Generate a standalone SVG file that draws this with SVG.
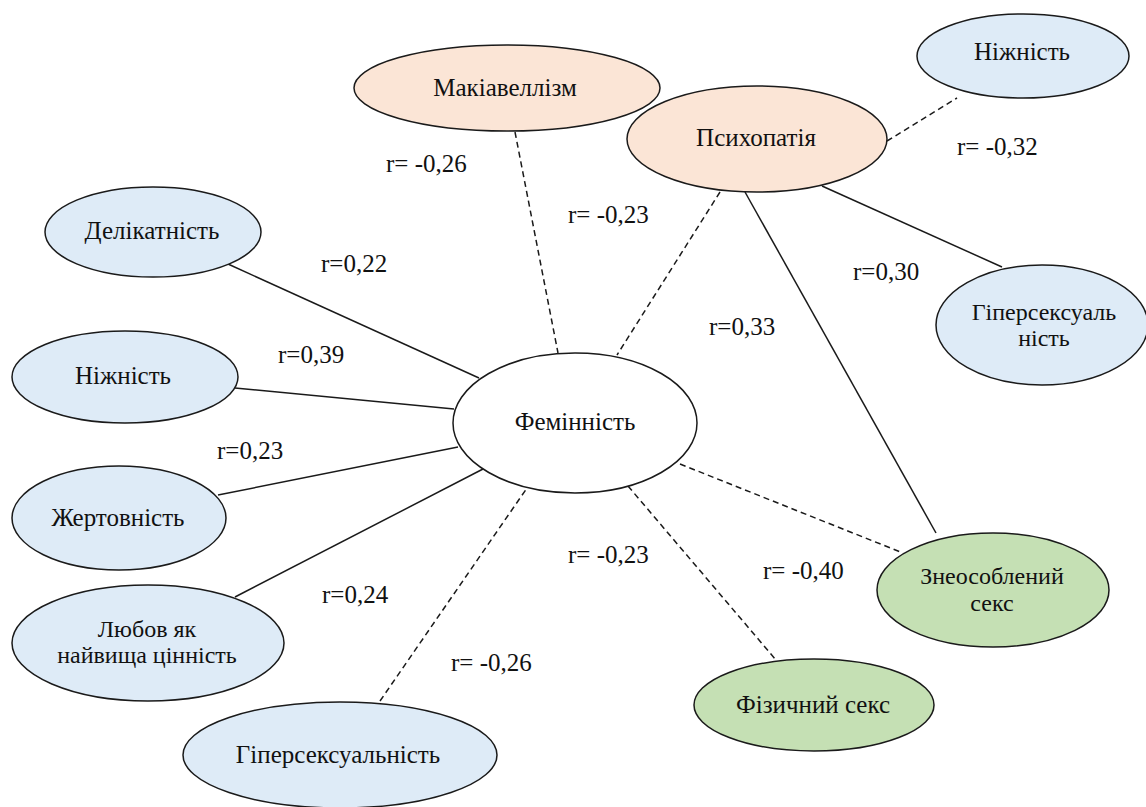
<svg xmlns="http://www.w3.org/2000/svg" width="1146" height="807" viewBox="0 0 1146 807">
<rect width="1146" height="807" fill="#ffffff"/>
<g id="connectors" stroke="#1a1a1a" stroke-width="1.5" fill="none">
<line stroke-dasharray="6 4" x1="515" y1="132" x2="558" y2="353"/>
<line stroke-dasharray="6 4" x1="720" y1="192" x2="617" y2="355"/>
<line x1="745" y1="192" x2="936" y2="533"/>
<line x1="822" y1="186" x2="1002" y2="267"/>
<line stroke-dasharray="6 4" x1="887" y1="141" x2="957" y2="98"/>
<line x1="228" y1="264" x2="479" y2="378"/>
<line x1="235" y1="388" x2="454" y2="409"/>
<line x1="218" y1="495" x2="458" y2="447"/>
<line x1="235" y1="597" x2="483" y2="469"/>
<line stroke-dasharray="6 4" x1="380" y1="701" x2="527" y2="488"/>
<line stroke-dasharray="6 4" x1="628" y1="486" x2="776" y2="660"/>
<line stroke-dasharray="6 4" x1="680" y1="464" x2="903" y2="553"/>
</g>
<g id="node-feminnist"><ellipse fill="#ffffff" stroke="#1a1a1a" stroke-width="1.5" cx="575" cy="423" rx="122" ry="70"/><text x="575" y="430" font-family="Liberation Serif" font-size="25" text-anchor="middle" fill="#111">Фемінність</text></g>
<g id="node-makiavelizm"><ellipse fill="#fbe5d6" stroke="#1a1a1a" stroke-width="1.5" cx="507" cy="88" rx="153" ry="43"/><text x="505" y="96" font-family="Liberation Serif" font-size="25" text-anchor="middle" fill="#111">Макіавеллізм</text></g>
<g id="node-psykhopatiia"><ellipse fill="#fbe5d6" stroke="#1a1a1a" stroke-width="1.5" cx="757" cy="139" rx="130" ry="53"/><text x="756" y="146" font-family="Liberation Serif" font-size="25" text-anchor="middle" fill="#111">Психопатія</text></g>
<g id="node-nizhnist-top"><ellipse fill="#deebf7" stroke="#1a1a1a" stroke-width="1.5" cx="1023" cy="56" rx="106" ry="42"/><text x="1022" y="60" font-family="Liberation Serif" font-size="25" text-anchor="middle" fill="#111">Ніжність</text></g>
<g id="node-hiperseksualnist-right"><ellipse fill="#deebf7" stroke="#1a1a1a" stroke-width="1.5" cx="1042" cy="325" rx="106" ry="60"/><text x="1044" y="320" font-family="Liberation Serif" font-size="24" text-anchor="middle" fill="#111">Гіперсексуаль</text><text x="1044" y="346" font-family="Liberation Serif" font-size="24" text-anchor="middle" fill="#111">ність</text></g>
<g id="node-delikatnist"><ellipse fill="#deebf7" stroke="#1a1a1a" stroke-width="1.5" cx="153" cy="232" rx="108" ry="45"/><text x="152" y="239" font-family="Liberation Serif" font-size="25" text-anchor="middle" fill="#111">Делікатність</text></g>
<g id="node-nizhnist-left"><ellipse fill="#deebf7" stroke="#1a1a1a" stroke-width="1.5" cx="125" cy="377" rx="113" ry="46"/><text x="123" y="384" font-family="Liberation Serif" font-size="25" text-anchor="middle" fill="#111">Ніжність</text></g>
<g id="node-zhertovnist"><ellipse fill="#deebf7" stroke="#1a1a1a" stroke-width="1.5" cx="119" cy="518" rx="107" ry="52"/><text x="118" y="526" font-family="Liberation Serif" font-size="25" text-anchor="middle" fill="#111">Жертовність</text></g>
<g id="node-liubov"><ellipse fill="#deebf7" stroke="#1a1a1a" stroke-width="1.5" cx="148" cy="643" rx="136" ry="58"/><text x="147" y="637" font-family="Liberation Serif" font-size="24" text-anchor="middle" fill="#111">Любов як</text><text x="147" y="663" font-family="Liberation Serif" font-size="24" text-anchor="middle" fill="#111">найвища цінність</text></g>
<g id="node-hiperseksualnist-bottom"><ellipse fill="#deebf7" stroke="#1a1a1a" stroke-width="1.5" cx="340" cy="755" rx="157" ry="53"/><text x="338" y="763" font-family="Liberation Serif" font-size="25" text-anchor="middle" fill="#111">Гіперсексуальність</text></g>
<g id="node-fizychnyi-seks"><ellipse fill="#c5e0b4" stroke="#1a1a1a" stroke-width="1.5" cx="814" cy="705" rx="120" ry="46"/><text x="813" y="713" font-family="Liberation Serif" font-size="25" text-anchor="middle" fill="#111">Фізичний секс</text></g>
<g id="node-zneosoblenyi-seks"><ellipse fill="#c5e0b4" stroke="#1a1a1a" stroke-width="1.5" cx="993" cy="590" rx="116" ry="57"/><text x="992" y="584" font-family="Liberation Serif" font-size="24" text-anchor="middle" fill="#111">Знеособлений</text><text x="992" y="611" font-family="Liberation Serif" font-size="24" text-anchor="middle" fill="#111">секс</text></g>
<g id="labels">
<text x="386" y="172" font-family="Liberation Serif" font-size="25" fill="#111">r= -0,26</text>
<text x="568" y="223" font-family="Liberation Serif" font-size="25" fill="#111">r= -0,23</text>
<text x="957" y="155" font-family="Liberation Serif" font-size="25" fill="#111">r= -0,32</text>
<text x="321" y="272" font-family="Liberation Serif" font-size="25" fill="#111">r=0,22</text>
<text x="278" y="363" font-family="Liberation Serif" font-size="25" fill="#111">r=0,39</text>
<text x="217" y="459" font-family="Liberation Serif" font-size="25" fill="#111">r=0,23</text>
<text x="322" y="603" font-family="Liberation Serif" font-size="25" fill="#111">r=0,24</text>
<text x="451" y="671" font-family="Liberation Serif" font-size="25" fill="#111">r= -0,26</text>
<text x="568" y="563" font-family="Liberation Serif" font-size="25" fill="#111">r= -0,23</text>
<text x="763" y="579" font-family="Liberation Serif" font-size="25" fill="#111">r= -0,40</text>
<text x="709" y="335" font-family="Liberation Serif" font-size="25" fill="#111">r=0,33</text>
<text x="853" y="280" font-family="Liberation Serif" font-size="25" fill="#111">r=0,30</text>
</g>
</svg>
